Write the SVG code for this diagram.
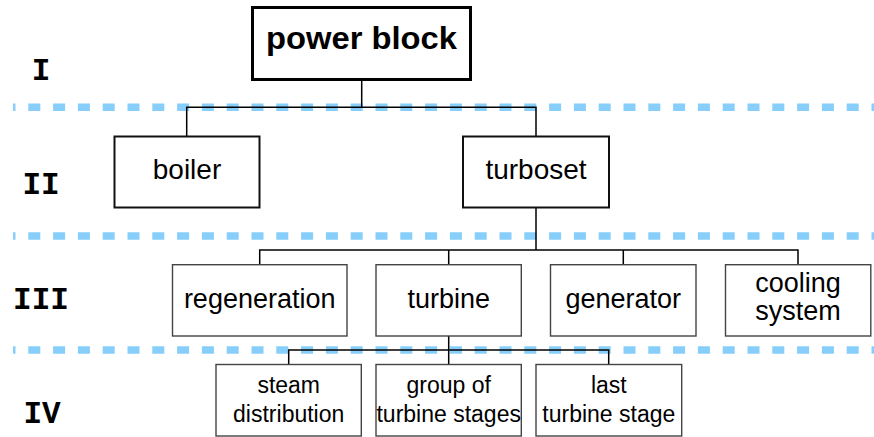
<svg xmlns="http://www.w3.org/2000/svg" width="874" height="437" viewBox="0 0 874 437">
<style>
.sep{stroke:#87cefa;stroke-width:7.5;stroke-dasharray:12 12.8;stroke-dashoffset:9.5;fill:none}
.con{stroke:#000;stroke-width:1.5;fill:none}
.b1{fill:#fff;stroke:#000;stroke-width:3}
.b2{fill:#fff;stroke:#111;stroke-width:2}
.b3{fill:#fff;stroke:#444;stroke-width:1.4}
text{font-family:"Liberation Sans",Arial,sans-serif;fill:#000;text-anchor:middle}
.t1{font-size:31px;font-weight:bold}
.t2{font-size:28px}
.t3{font-size:27px}
.t4{font-size:23px}
.lv{font-family:"Liberation Mono","Courier New",monospace;font-weight:bold;font-size:31px}
</style>
<g id="separators">
<line class="sep" x1="13" y1="107.3" x2="874" y2="107.3"/>
<line class="sep" x1="13" y1="236" x2="874" y2="236"/>
<line class="sep" x1="13" y1="350" x2="874" y2="350"/>
</g>
<g id="levels">
<text class="lv" x="41" y="80">I</text>
<text class="lv" x="41" y="193.5">II</text>
<text class="lv" x="41" y="308.5">III</text>
<text class="lv" x="42" y="422.5">IV</text>
</g>
<g id="connectors">
<path class="con" d="M361.7 80 V107.3 M186.7 136 V107.3 H536 V136"/>
<path class="con" d="M536 207.7 V250 M259.7 264.7 V250 H798 V264.7 M448.7 250 V264.7 M623.3 250 V264.7"/>
<path class="con" d="M448.7 336 V364.3 M288.7 364.3 V350 H608.7 V364.3"/>
</g>
<g id="power-block">
<rect class="b1" x="252.5" y="7.5" width="218" height="72"/>
<text class="t1" x="361.5" y="48.5" textLength="191" lengthAdjust="spacingAndGlyphs">power block</text>
</g>
<g id="boiler">
<rect class="b2" x="114.5" y="136.5" width="145" height="71"/>
<text class="t2" x="187" y="178.5">boiler</text>
</g>
<g id="turboset">
<rect class="b2" x="463" y="136.5" width="146" height="71"/>
<text class="t2" x="536" y="178.5">turboset</text>
</g>
<g id="regeneration">
<rect class="b3" x="172.5" y="264.7" width="174.5" height="71.3"/>
<text class="t3" x="259.7" y="308">regeneration</text>
</g>
<g id="turbine">
<rect class="b3" x="376" y="264.7" width="145.3" height="71.3"/>
<text class="t3" x="448.7" y="308">turbine</text>
</g>
<g id="generator">
<rect class="b3" x="550.5" y="264.7" width="145.5" height="71.3"/>
<text class="t3" x="623.3" y="308">generator</text>
</g>
<g id="cooling-system">
<rect class="b3" x="725.5" y="264.7" width="145.3" height="71.3"/>
<text class="t3" x="798" y="292.3">cooling</text>
<text class="t3" x="798" y="320">system</text>
</g>
<g id="steam-distribution">
<rect class="b3" x="216" y="364.5" width="145.3" height="71.5"/>
<text class="t4" x="288.7" y="393.3">steam</text>
<text class="t4" x="288.7" y="421.7">distribution</text>
</g>
<g id="group-of-turbine-stages">
<rect class="b3" x="376" y="364.5" width="145.3" height="71.5"/>
<text class="t4" x="448.7" y="393.3">group of</text>
<text class="t4" x="448.7" y="421.7">turbine stages</text>
</g>
<g id="last-turbine-stage">
<rect class="b3" x="536" y="364.5" width="145.7" height="71.5"/>
<text class="t4" x="608.8" y="393.3">last</text>
<text class="t4" x="608.8" y="421.7">turbine stage</text>
</g>
</svg>
